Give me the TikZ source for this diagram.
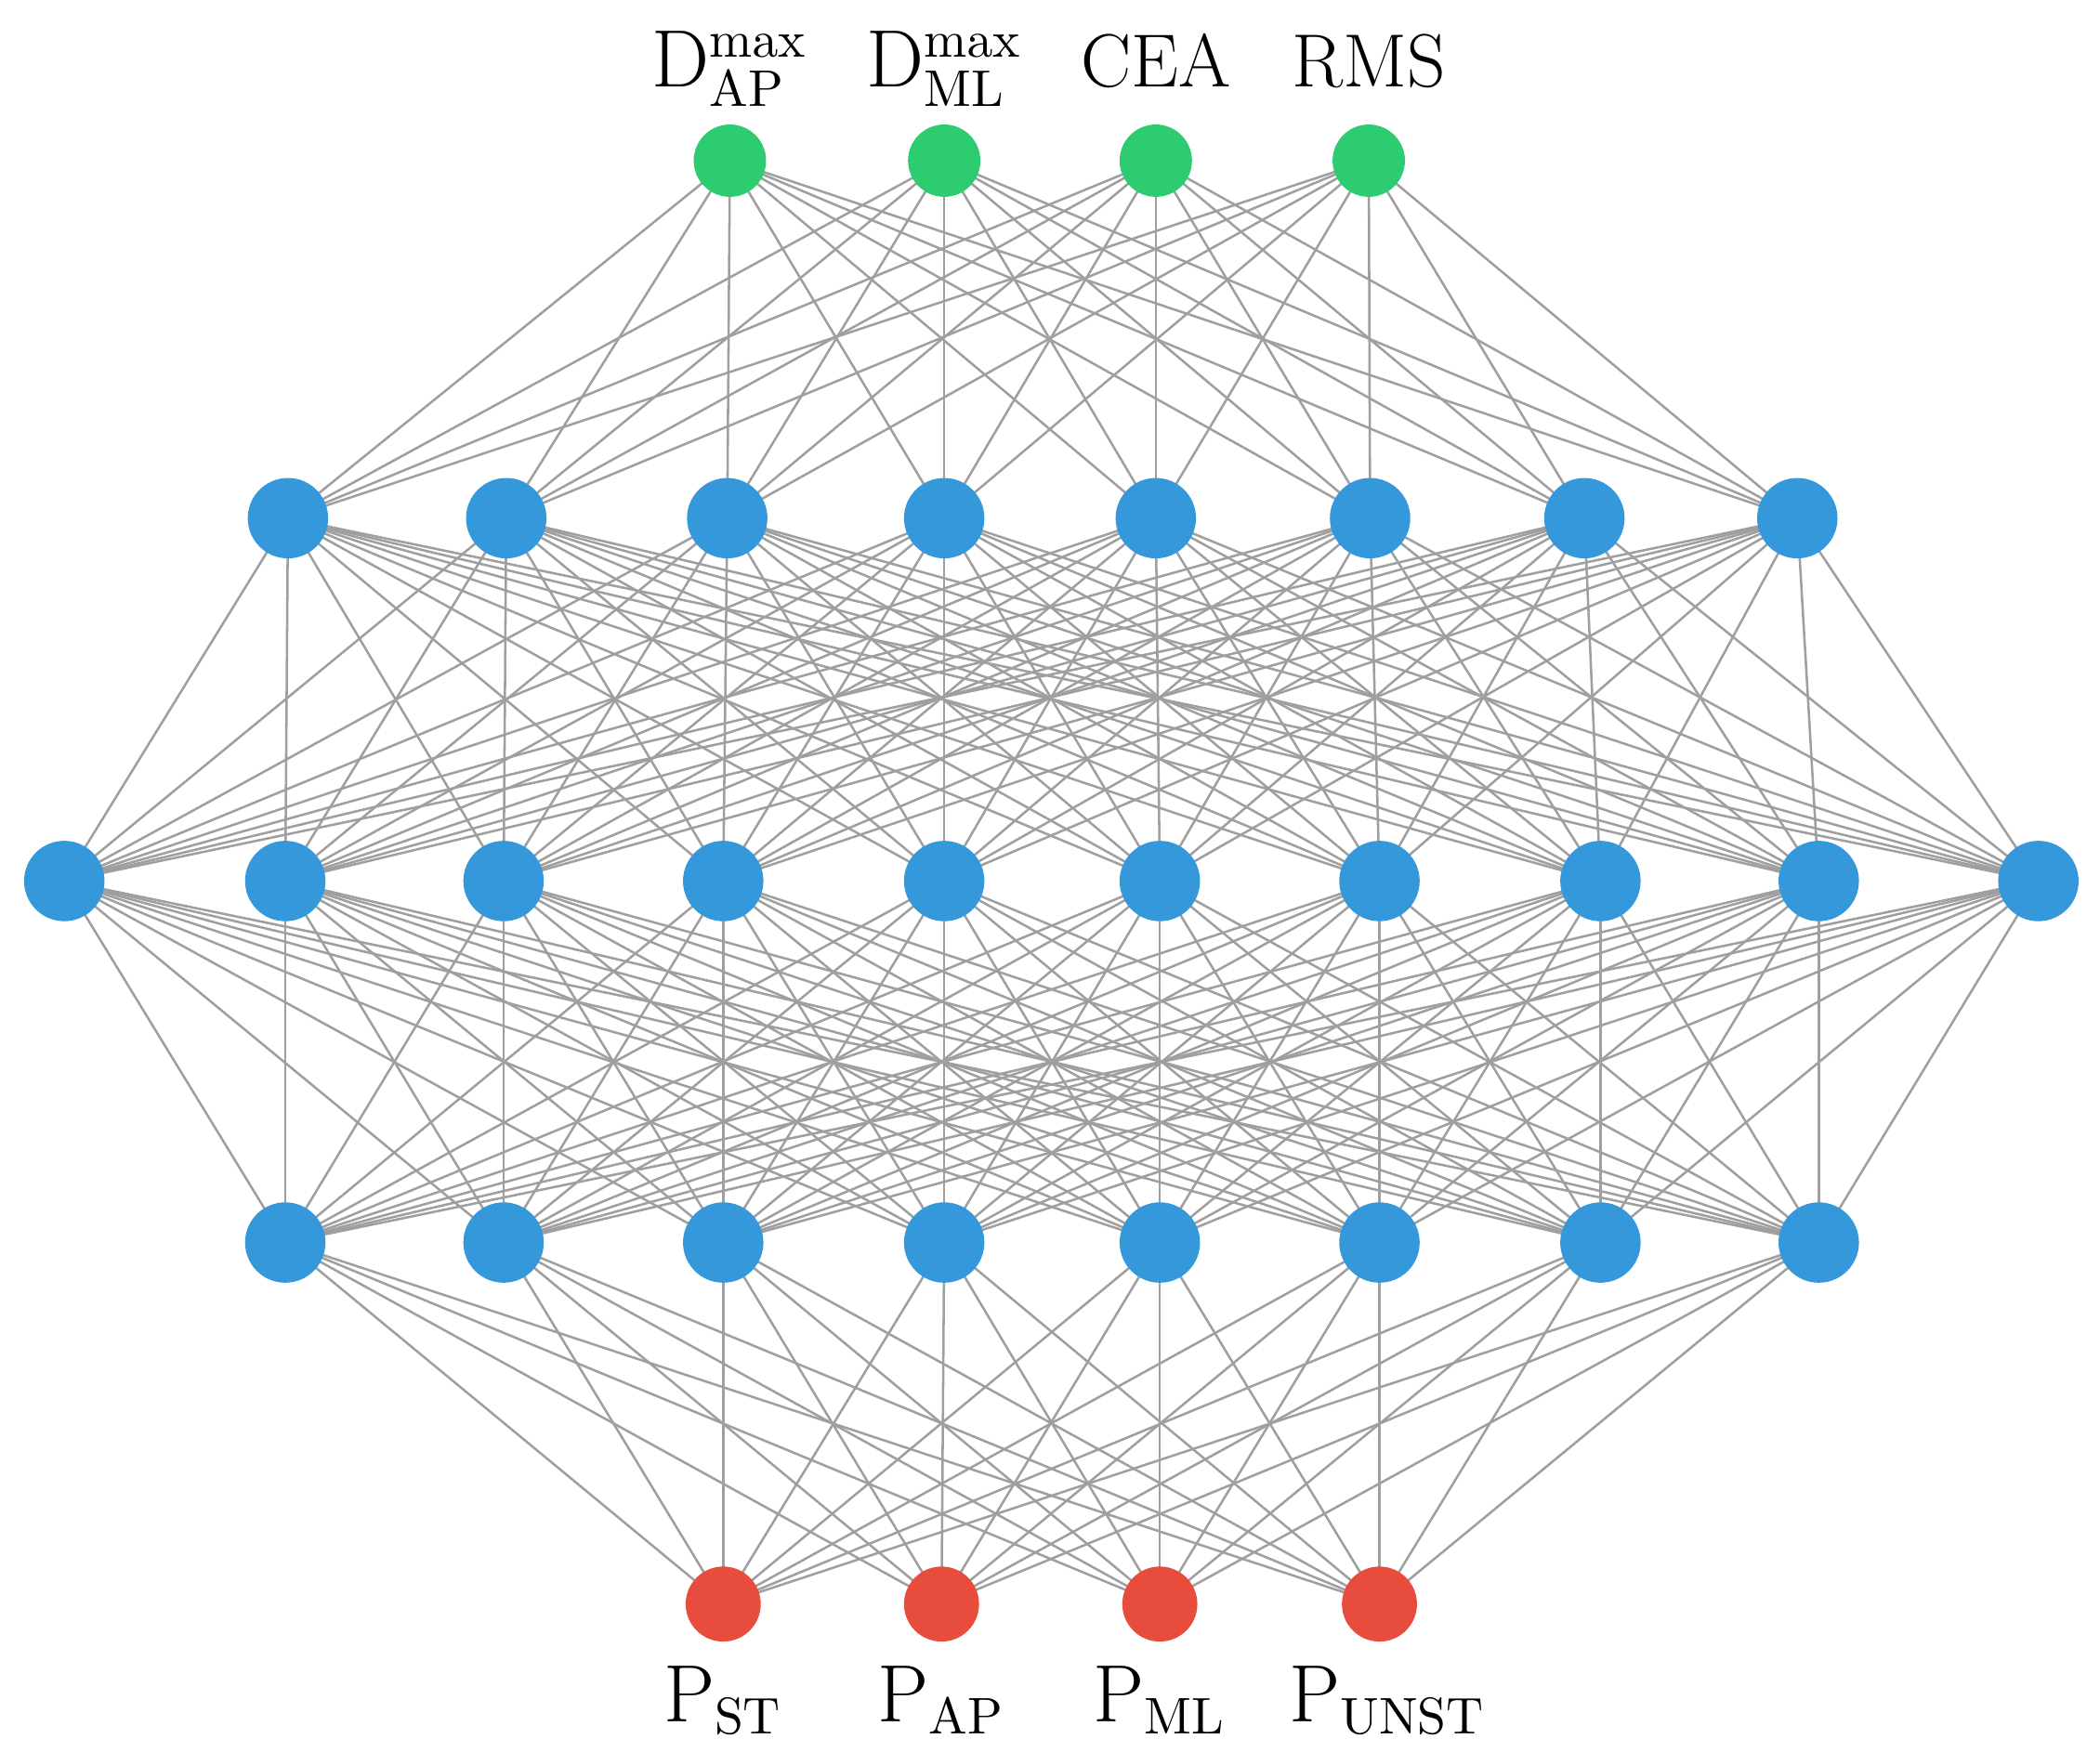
\documentclass[tikz,border=0pt]{standalone}
\begin{document}
\begin{tikzpicture}[x=0.01cm,y=-0.01cm,
  g/.style={circle,fill=green!70!black!60!cyan!20!green,inner sep=0pt,minimum size=0.54cm},
  b/.style={circle,fill=blue!40!cyan!80!black,inner sep=0pt,minimum size=0.6cm},
  r/.style={circle,fill=red!75!orange,inner sep=0pt,minimum size=0.56cm},
  e/.style={draw=gray!75,line width=0.5pt},
  lab/.style={font=\fontsize{16}{19}\selectfont}]
\definecolor{cg}{HTML}{2ECC71}\definecolor{cb}{HTML}{3498DB}\definecolor{cr}{HTML}{E74C3C}
\useasboundingbox (0,0) rectangle (1568,1308);
\foreach \x [count=\i] in {545,705,863,1022} \coordinate (G\i) at (\x,120);
\foreach \x [count=\i] in {215,378,543,705,863,1023,1183,1342} \coordinate (A\i) at (\x,387);
\foreach \x [count=\i] in {48,213,376,540,705,866,1030,1195,1358,1522} \coordinate (B\i) at (\x,658);
\foreach \x [count=\i] in {213,376,540,705,866,1030,1195,1358} \coordinate (C\i) at (\x,928);
\foreach \x [count=\i] in {540,703,866,1030} \coordinate (R\i) at (\x,1198);
\foreach \i in {1,...,4} \foreach \j in {1,...,8} \draw[e] (G\i) -- (A\j);
\foreach \i in {1,...,8} \foreach \j in {1,...,10} \draw[e] (A\i) -- (B\j);
\foreach \i in {1,...,10} \foreach \j in {1,...,8} \draw[e] (B\i) -- (C\j);
\foreach \i in {1,...,8} \foreach \j in {1,...,4} \draw[e] (C\i) -- (R\j);
\foreach \i in {1,...,4} \node[g,fill=cg] (g\i) at (G\i) {};
\foreach \i in {1,...,8} \node[b,fill=cb] (a\i) at (A\i) {};
\foreach \i in {1,...,10} \node[b,fill=cb] (b\i) at (B\i) {};
\foreach \i in {1,...,8} \node[b,fill=cb] (c\i) at (C\i) {};
\foreach \i in {1,...,4} \node[r,fill=cr] (r\i) at (R\i) {};
\node[lab,anchor=south] (l1) at (545,92) {$\mathrm{D}^{\mathrm{max}}_{\mathrm{AP}}$};
\node[lab,anchor=south] (l2) at (705,92) {$\mathrm{D}^{\mathrm{max}}_{\mathrm{ML}}$};
\node[lab,anchor=south] (l3) at (863,78) {CEA};
\node[lab,anchor=south] (l4) at (1022,78) {RMS};
\node[lab,anchor=north] (m1) at (540,1232) {$\mathrm{P}_{\mathrm{ST}}$};
\node[lab,anchor=north] (m2) at (703,1232) {$\mathrm{P}_{\mathrm{AP}}$};
\node[lab,anchor=north] (m3) at (866,1232) {$\mathrm{P}_{\mathrm{ML}}$};
\node[lab,anchor=north] (m4) at (1036,1232) {$\mathrm{P}_{\mathrm{UNST}}$};
\end{tikzpicture}
\end{document}
